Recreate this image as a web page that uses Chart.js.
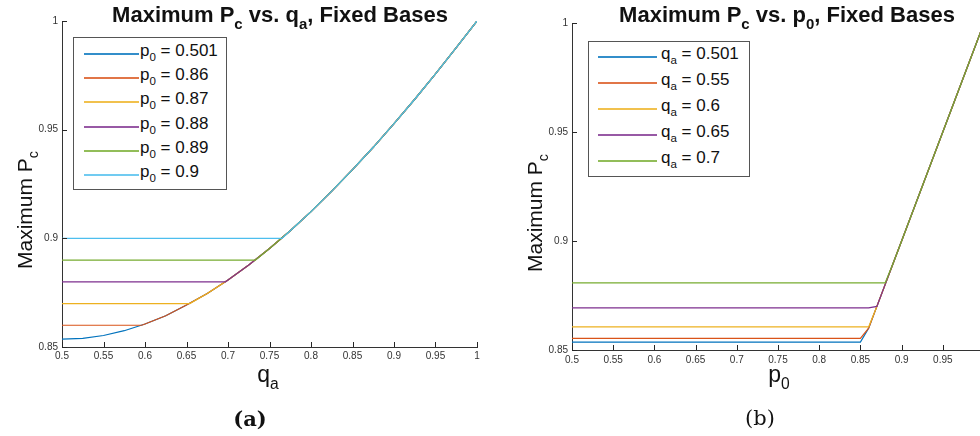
<!DOCTYPE html>
<html>
<head>
<meta charset="utf-8">
<script src="https://cdn.jsdelivr.net/npm/chart.js@4.4.0/dist/chart.umd.min.js"></script>
<style>
  body { margin: 0; background: #fff; overflow: hidden; font-family: "Liberation Sans", Arial, sans-serif; color: #111; }
  #wrap { position: relative; width: 980px; height: 436px; overflow: hidden; }
  canvas { position: absolute; top: 0; }
  .title { position: absolute; top: 2px; font-weight: bold; font-size: 22px; line-height: 26px; text-align: center; white-space: nowrap; }
  .ytitle { position: absolute; width: 200px; height: 24px; font-size: 21px; line-height: 24px; text-align: center; white-space: nowrap; transform: rotate(-90deg); }
  .xtitle { position: absolute; width: 80px; font-size: 23px; line-height: 26px; text-align: center; }
  .cap { position: absolute; width: 80px; text-align: center; font-family: "DejaVu Serif", serif; font-size: 21px; }
  sub { font-size: 0.68em; vertical-align: -0.45em; line-height: 0; }
  .legend { position: absolute; border: 1px solid #555; background: #fff; box-sizing: border-box; }
  .row { position: absolute; left: 0; height: 20px; width: 100%; }
  .row .ln { position: absolute; top: 10px; height: 2px; opacity: 0.8; }
  .row .tx { position: absolute; top: -1px; font-size: 17px; line-height: 17px; white-space: nowrap; }
</style>
</head>
<body>
<div id="wrap">
  <canvas id="chartA" width="490" height="380" style="left:0;width:490px;height:380px"></canvas>
  <canvas id="chartB" width="510" height="380" style="left:490px;width:510px;height:380px"></canvas>

  <div class="title" style="left:80px;width:400px">Maximum P<sub>c</sub> vs. q<sub>a</sub>, Fixed Bases</div>
  <div class="title" style="left:587px;width:400px">Maximum P<sub>c</sub> vs. p<sub>0</sub>, Fixed Bases</div>

  <div class="ytitle" style="left:-75px;top:198px">Maximum P<sub>c</sub></div>
  <div class="ytitle" style="left:435px;top:201px">Maximum P<sub>c</sub></div>

  <div class="xtitle" style="left:228px;top:361px">q<sub>a</sub></div>
  <div class="xtitle" style="left:739px;top:361px">p<sub>0</sub></div>

  <div class="cap" style="left:210px;top:406px;font-weight:bold">(a)</div>
  <div class="cap" style="left:720px;top:406px">(b)</div>

  <div class="legend" id="legA" style="left:73px;top:37px;width:154px;height:153px"></div>
  <div class="legend" id="legB" style="left:588px;top:41px;width:162px;height:136px"></div>
</div>

<script>
// MATLAB default line colours
const lineColors = ['#0072BD', '#D95319', '#EDB120', '#7E2F8E', '#77AC30', '#4DBEEE'];

// ---- panel (a): Maximum Pc vs qa ----
const qaGrid = [0.5, 0.525, 0.55, 0.575, 0.6, 0.625, 0.65, 0.675, 0.7, 0.725, 0.75,
                0.775, 0.8, 0.825, 0.85, 0.875, 0.9, 0.925, 0.95, 0.975, 1];
const pcCurve = [0.8536, 0.8540, 0.8553, 0.8575, 0.8606, 0.8644, 0.8693, 0.8746, 0.8808, 0.8877, 0.8953,
                 0.9035, 0.9123, 0.9217, 0.9316, 0.9419, 0.9528, 0.9640, 0.9757, 0.9877, 1.0];
const p0Labels = ['0.501', '0.86', '0.87', '0.88', '0.89', '0.9'];
const p0Level = [0.8536, 0.86, 0.87, 0.88, 0.89, 0.9];   // flat part of each line
const p0Meet = [0.5, 0.596, 0.654, 0.697, 0.733, 0.765];  // where it joins the curve

// ---- panel (b): Maximum Pc vs p0 ----
const qaLabels = ['0.501', '0.55', '0.6', '0.65', '0.7'];
const p0Grid = [0.5, 0.55, 0.6, 0.65, 0.7, 0.75, 0.8, 0.85, 0.86, 0.87, 0.88, 0.89, 0.9, 0.95, 1];
const pcQa501 = [0.8536, 0.8536, 0.8536, 0.8536, 0.8536, 0.8536, 0.8536, 0.8536, 0.86, 0.87, 0.88, 0.89, 0.9, 0.95, 1];
const pcQa55  = [0.8553, 0.8553, 0.8553, 0.8553, 0.8553, 0.8553, 0.8553, 0.8553, 0.86, 0.87, 0.88, 0.89, 0.9, 0.95, 1];
const pcQa60  = [0.8606, 0.8606, 0.8606, 0.8606, 0.8606, 0.8606, 0.8606, 0.8606, 0.8606, 0.87, 0.88, 0.89, 0.9, 0.95, 1];
const pcQa65  = [0.8693, 0.8693, 0.8693, 0.8693, 0.8693, 0.8693, 0.8693, 0.8693, 0.8693, 0.87, 0.88, 0.89, 0.9, 0.95, 1];
const pcQa70  = [0.8808, 0.8808, 0.8808, 0.8808, 0.8808, 0.8808, 0.8808, 0.8808, 0.8808, 0.8808, 0.8808, 0.89, 0.9, 0.95, 1];
const pcByQa = [pcQa501, pcQa55, pcQa60, pcQa65, pcQa70];

const tickValues = [0.85, 0.9, 0.95, 1];

// ticks pointing into the plot, like MATLAB
const inTicks = {
  id: 'inTicks',
  afterDraw(chart) {
    const { ctx, chartArea: a, scales: { x, y } } = chart;
    ctx.save();
    ctx.strokeStyle = '#262626';
    ctx.lineWidth = 1;
    ctx.beginPath();
    x.ticks.forEach(t => {
      const px = Math.round(x.getPixelForValue(t.value)) + 0.5;
      ctx.moveTo(px, a.bottom);
      ctx.lineTo(px, a.bottom - 5);
    });
    y.ticks.forEach(t => {
      const py = Math.round(y.getPixelForValue(t.value)) + 0.5;
      ctx.moveTo(a.left, py);
      ctx.lineTo(a.left + 5, py);
    });
    ctx.stroke();
    ctx.restore();
  }
};

function fmt(v) { return String(+(+v).toFixed(2)); }

function makeOptions(pad, xPad) {
  return {
    responsive: false,
    animation: false,
    devicePixelRatio: 1,
    events: [],
    layout: { padding: pad },
    elements: { point: { radius: 0 }, line: { borderWidth: 1.2, tension: 0 } },
    plugins: { legend: { display: false }, tooltip: { enabled: false } },
    scales: {
      x: {
        type: 'linear', min: 0.5, max: 1,
        grid: { display: false, drawTicks: false },
        border: { display: true, color: '#333', width: 1 },
        ticks: { stepSize: 0.05, autoSkip: false, maxRotation: 0, padding: xPad,
                 color: '#333', font: { family: 'Liberation Sans', size: 10 }, callback: fmt },
        afterFit(s) { s.height = 20; }
      },
      y: {
        type: 'linear', min: 0.85, max: 1,
        grid: { display: false, drawTicks: false },
        border: { display: true, color: '#333', width: 1 },
        ticks: { stepSize: 0.05, padding: 4, color: '#333',
                 font: { family: 'Liberation Sans', size: 10 }, callback: fmt },
        afterBuildTicks(s) { s.ticks = tickValues.map(v => ({ value: v })); },
        afterFit(s) { s.width = 40; }
      }
    }
  };
}

// datasets for (a): flat at its level, then along the common curve
const dataA = p0Labels.map((lab, i) => {
  const pts = i === 0 ? [] : [{ x: 0.5, y: p0Level[i] }, { x: p0Meet[i], y: p0Level[i] }];
  qaGrid.forEach((q, k) => {
    if (i === 0 || q > p0Meet[i]) pts.push({ x: q, y: pcCurve[k] });
  });
  return { label: 'p0 = ' + lab, data: pts, borderColor: lineColors[i], order: p0Labels.length - i };
});

// datasets for (b)
const dataB = qaLabels.map((lab, i) => ({
  label: 'qa = ' + lab,
  data: p0Grid.map((p, k) => ({ x: p, y: pcByQa[i][k] })),
  borderColor: lineColors[i],
  order: qaLabels.length - i
}));

new Chart(document.getElementById('chartA'), {
  type: 'line',
  data: { datasets: dataA },
  options: makeOptions({ top: 21, left: 22, right: 13, bottom: 13 }, 3),
  plugins: [inTicks]
});

new Chart(document.getElementById('chartB'), {
  type: 'line',
  data: { datasets: dataB },
  options: makeOptions({ top: 23, left: 42, right: 16, bottom: 10 }, 4),
  plugins: [inTicks]
});

// legends (html so the subscripts stay real text)
function buildLegend(el, sym, sub, labels, firstY, step, lineLeft, lineW, textLeft) {
  labels.forEach((lab, i) => {
    const row = document.createElement('div');
    row.className = 'row';
    row.style.top = Math.round(firstY + i * step - 11) + 'px';
    row.innerHTML = '<span class="ln" style="left:' + lineLeft + 'px;width:' + lineW + 'px;background:' + lineColors[i] + '"></span>' +
      '<span class="tx" style="left:' + textLeft + 'px">' + sym + '<sub>' + sub + '</sub> = ' + lab + '</span>';
    el.appendChild(row);
  });
}
buildLegend(document.getElementById('legA'), 'p', '0', p0Labels, 16, 24.2, 10, 55, 66);
buildLegend(document.getElementById('legB'), 'q', 'a', qaLabels, 15, 26, 9, 59, 72);
</script>
</body>
</html>
